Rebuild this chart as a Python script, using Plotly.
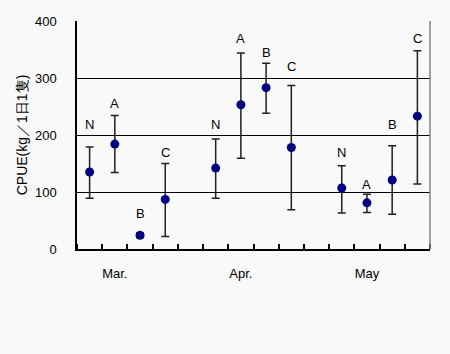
import plotly.graph_objects as go

# Slots: 0-3 Mar, 4 gap, 5-8 Apr, 9 gap, 10-13 May
slots = [0, 1, 2, 3, 5, 6, 7, 8, 10, 11, 12, 13]
groups = ["N", "A", "B", "C", "N", "A", "B", "C", "N", "A", "B", "C"]
means = [135, 184, 24, 87, 142, 253, 283, 178, 107, 81, 121, 233]
upper = [179, 234, 28, 150, 193, 344, 326, 287, 146, 96, 181, 348]
lower = [89, 134, 20, 22, 89, 159, 238, 69, 63, 64, 61, 114]
label_y = [218, 255, 62, 169, 218, 370, 344, 320, 169, 114, 218, 370]
month_pos = [1, 6, 11]
month_text = ["Mar.", "Apr.", "May"]
y_ticks = [0, 100, 200, 300, 400]

err_plus = [u - m for u, m in zip(upper, means)]
err_minus = [m - l for m, l in zip(means, lower)]

font = "Liberation Sans, Arial, sans-serif"
bg = "#F9F9F9"

fig = go.Figure()
fig.add_trace(go.Scatter(
    x=slots, y=means, mode="markers",
    marker=dict(color="#000080", size=9, symbol="circle"),
    error_y=dict(type="data", symmetric=False, array=err_plus, arrayminus=err_minus,
                 color="#202020", thickness=1.5, width=4),
    showlegend=False, cliponaxis=False,
))

for x, y, t in zip(slots, label_y, groups):
    fig.add_annotation(x=x, y=y, text=t, showarrow=False,
                       font=dict(family=font, size=13, color="#000"))

fig.add_shape(type="line", xref="paper", yref="paper", x0=1, x1=1, y0=0, y1=1,
              line=dict(color="#808080", width=1.5))

fig.update_layout(
    width=450, height=354,
    margin=dict(l=77, r=20, t=21, b=105),
    paper_bgcolor=bg, plot_bgcolor=bg,
    font=dict(family=font, size=13, color="#000"),
    xaxis=dict(range=[-0.5, 13.5], tickvals=month_pos, ticktext=month_text,
               ticks="", showgrid=False, zeroline=False, showline=True,
               linecolor="#000", linewidth=1.5, ticklabelstandoff=12,
               minor=dict(tickvals=[i - 0.5 for i in range(15)], ticks="inside",
                          ticklen=5, tickcolor="#000", tickwidth=1.5, showgrid=False)),
    yaxis=dict(range=[0, 400], tickvals=y_ticks, ticks="", showgrid=True,
               gridcolor="#000", gridwidth=1, zeroline=False, showline=True,
               linecolor="#000", linewidth=1.5, ticklabelstandoff=16,
               title=dict(text="CPUE(kg／1日1隻)", standoff=4,
                          font=dict(family=font, size=14))),
)

fig.write_html("out.html")
